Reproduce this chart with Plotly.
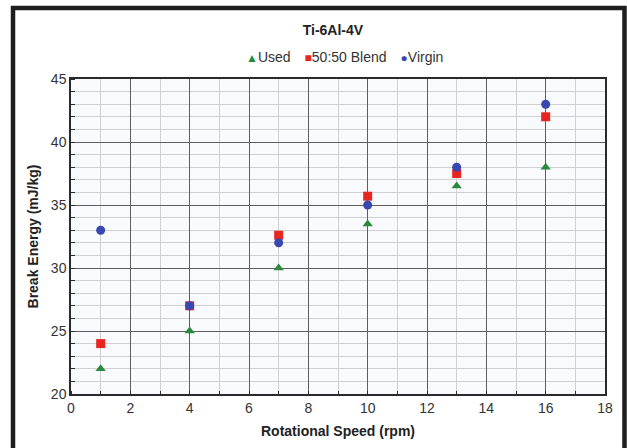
import plotly.graph_objects as go

# Break energy of Ti-6Al-4V powder at each rotational speed
speed_rpm = [1, 4, 7, 10, 13, 16]
used = [22, 25, 30, 33.5, 36.5, 38]
blend_50_50 = [24, 27, 32.6, 35.7, 37.5, 42]
virgin = [33, 27, 32, 35, 38, 43]

series_names = ["Used", "50:50 Blend", "Virgin"]
series_colors = ["#2a8a3c", "#e8261f", "#3848b0"]
series_symbols = ["triangle-up", "square", "circle"]
legend_glyphs = ["▲", "■", "●"]

x_ticks = list(range(0, 19, 2))
y_ticks = list(range(20, 46, 5))

FONT = "Liberation Sans, Arial, Helvetica, sans-serif"

fig = go.Figure()
for name, values, color, symbol in zip(series_names, [used, blend_50_50, virgin],
                                       series_colors, series_symbols):
    fig.add_trace(go.Scatter(
        x=speed_rpm, y=values, mode="markers", name=name, showlegend=False,
        marker=dict(symbol=symbol, size=9, color=color),
    ))

axis_common = dict(
    showline=True, linecolor="#2a2a2a", linewidth=1.5, mirror=True,
    gridcolor="#5e5e5e", gridwidth=1.2,
    tickfont=dict(family=FONT, size=14, color="#333333"),
    zeroline=False,
)

fig.update_xaxes(
    range=[0, 18], tickvals=x_ticks, ticks="", **axis_common,
    minor=dict(dtick=1, showgrid=True, gridcolor="#d0d0d0", gridwidth=1,
               ticks="inside", ticklen=3, tickcolor="#2a2a2a"),
    title=dict(text="<b>Rotational Speed (rpm)</b>", standoff=12,
               font=dict(family=FONT, size=14, color="#222222")),
)
fig.update_yaxes(
    range=[20, 45], tickvals=y_ticks, ticks="", **axis_common,
    minor=dict(dtick=1, showgrid=True, gridcolor="#d0d0d0", gridwidth=1,
               ticks="inside", ticklen=4, tickcolor="#2a2a2a"),
    title=dict(text="<b>Break Energy (mJ/kg)</b>", standoff=9,
               font=dict(family=FONT, size=14, color="#222222")),
)

# Black frame around the whole chart panel
fig.add_shape(
    type="rect", xref="paper", yref="paper",
    x0=-0.1086, x1=1.0365, y0=-0.25, y1=1.2254,
    line=dict(color="#1e1e1e", width=4.5), layer="above",
)

# Compact legend line: coloured symbol directly before each series name
gap = "\u2002\u2002"
legend_text = gap.join(
    f'<span style="color:{c};font-size:12px">{g}</span>{n}'
    for g, c, n in zip(legend_glyphs, series_colors, series_names)
)
fig.add_annotation(
    text=legend_text, xref="paper", yref="paper",
    x=0.513, y=1.07, xanchor="center", yanchor="middle", showarrow=False,
    font=dict(family=FONT, size=14, color="#333333"),
)

fig.update_layout(
    width=627, height=448,
    margin=dict(l=71, r=22, t=79, b=54),
    paper_bgcolor="white",
    plot_bgcolor="#f8fafd",
    title=dict(text="<b>Ti-6Al-4V</b>", x=0.531, xanchor="center",
               y=0.933, yanchor="middle",
               font=dict(family=FONT, size=14, color="#222222")),
    showlegend=False,
)

fig.write_html("out.html")
